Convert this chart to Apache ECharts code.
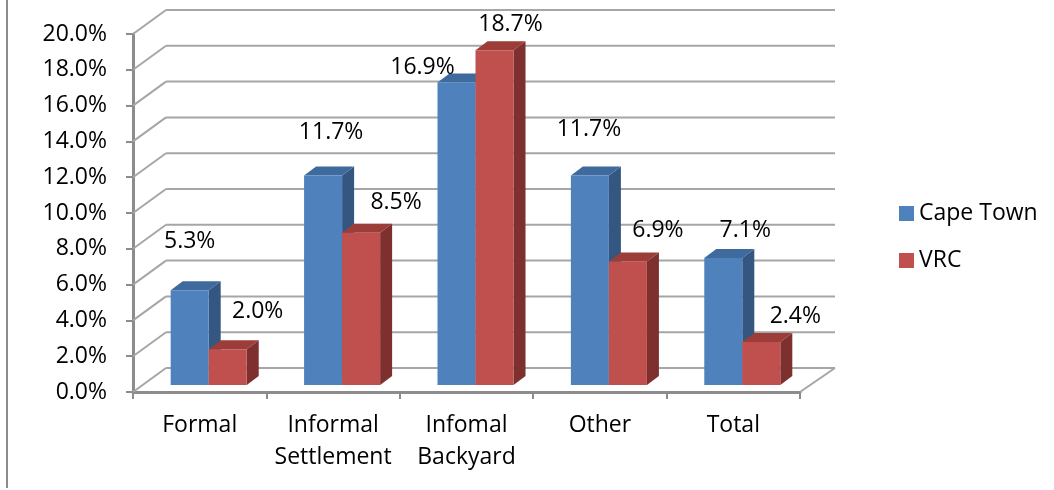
<!DOCTYPE html>
<html>
<head>
<meta charset="utf-8">
<script src="https://cdn.jsdelivr.net/npm/echarts@6/dist/echarts.min.js"></script>
<style>
  html, body { margin: 0; padding: 0; background: #ffffff; }
  #chart { width: 1054px; height: 490px; }
</style>
</head>
<body>
<div id="chart"></div>
<script>
// Share of households by dwelling type (%)
const categories = ['Formal', 'Informal\nSettlement', 'Infomal\nBackyard', 'Other', 'Total'];
const capeTown = [5.3, 11.7, 16.9, 11.7, 7.1];
const vrc = [2.0, 8.5, 18.7, 6.9, 2.4];
const yTicks = [0, 2, 4, 6, 8, 10, 12, 14, 16, 18, 20];

// Label placement tweaks (pixels from the top-centre of each bar's front face)
const capeLabelNudge = [[0, -49], [8, -43], [-34, -15], [-1, -46], [22, -27]];
const vrcLabelNudge = [[30, -38], [35, -30], [16, -26], [30, -31], [34, -26]];

const FONT = '"Open Sans", "Noto Sans", sans-serif';
const FS = 23;
const WALL_DX = 33, WALL_DY = -24;   // depth of back wall
const BAR_SX = 9, BAR_SY = -7;       // bars sit part-way into the depth
const BAR_DX = 12, BAR_DY = -9;      // bar block depth
const BAR_RATIO = 0.285;             // bar width as share of category band

const palettes = [
  { front: '#4F81BD', top: '#3E6A9E', side: '#335780' },
  { front: '#C0504D', top: '#9C3D3A', side: '#7D302E' }
];

function wallItem(params, api) {
  const cs = params.coordSys;
  const v = api.value(1);
  const p = api.coord([0, v]);
  const x0 = cs.x, x1 = cs.x + cs.width, y = p[1];
  const style = { stroke: '#A6A6A6', lineWidth: 2 };
  const children = [
    { type: 'line', shape: { x1: x0, y1: y, x2: x0 + WALL_DX, y2: y + WALL_DY }, style: style },
    { type: 'line', shape: { x1: x0 + WALL_DX, y1: y + WALL_DY, x2: x1 + WALL_DX + 2, y2: y + WALL_DY }, style: style }
  ];
  if (v === 0) {
    children.push({ type: 'line', shape: { x1: x1, y1: y, x2: x1 + WALL_DX + 2, y2: y + WALL_DY }, style: style });
  }
  return { type: 'group', children: children };
}

function barRenderer(seriesIdx, nudges) {
  const pal = palettes[seriesIdx];
  return function (params, api) {
    const cat = api.value(0);
    const val = api.value(1);
    const base = api.coord([cat, 0]);
    const top = api.coord([cat, val]);
    const band = api.size([1, 0])[0];
    const bw = band * BAR_RATIO;
    const xl = base[0] - bw + seriesIdx * bw + BAR_SX;
    const yb = base[1] + BAR_SY;
    const yt = top[1] + BAR_SY;
    const nd = nudges[params.dataIndex];
    return {
      type: 'group',
      children: [
        { type: 'polygon', shape: { points: [[xl + bw, yt], [xl + bw + BAR_DX, yt + BAR_DY], [xl + bw + BAR_DX, yb + BAR_DY], [xl + bw, yb]] },
          style: { fill: pal.side } },
        { type: 'polygon', shape: { points: [[xl, yt], [xl + bw, yt], [xl + bw + BAR_DX, yt + BAR_DY], [xl + BAR_DX, yt + BAR_DY]] },
          style: { fill: pal.top } },
        { type: 'rect', shape: { x: xl, y: yt, width: bw, height: yb - yt },
          style: { fill: pal.front } },
        { type: 'text', style: {
            text: val.toFixed(1) + '%', x: xl + bw / 2 + nd[0], y: yt + nd[1],
            align: 'center', verticalAlign: 'middle',
            fill: '#000000', font: FS + 'px ' + FONT } }
      ]
    };
  };
}

const chart = echarts.init(document.getElementById('chart'), null, { renderer: 'canvas' });

chart.setOption({
  animation: false,
  backgroundColor: '#ffffff',
  textStyle: { fontFamily: FONT },
  grid: { left: 133, right: 254, top: 34, bottom: 98, containLabel: false },
  legend: {
    orient: 'vertical',
    left: 894,
    top: 197,
    itemWidth: 15,
    itemHeight: 15,
    itemGap: 24,
    icon: 'rect',
    textStyle: { fontSize: FS, color: '#000000', fontFamily: FONT, lineHeight: 23 },
    data: ['Cape Town', 'VRC']
  },
  xAxis: {
    type: 'category',
    data: categories,
    boundaryGap: true,
    axisLine: { show: true, lineStyle: { color: '#8C8C8C', width: 3 } },
    axisTick: { show: true, length: 7, lineStyle: { color: '#8C8C8C', width: 2 } },
    axisLabel: { color: '#000000', fontSize: FS, fontFamily: FONT, lineHeight: 32, margin: 17, interval: 0 },
    splitLine: { show: false }
  },
  yAxis: {
    type: 'value',
    min: 0,
    max: 20,
    interval: 2,
    axisLine: { show: true, lineStyle: { color: '#8C8C8C', width: 3 } },
    axisTick: { show: true, length: 7, lineStyle: { color: '#8C8C8C', width: 2 } },
    axisLabel: { color: '#000000', fontSize: FS, fontFamily: FONT, margin: 26,
      formatter: function (v) { return v.toFixed(1) + '%'; } },
    splitLine: { show: false }
  },
  graphic: [
    { type: 'line', shape: { x1: 7, y1: 0, x2: 7, y2: 488 }, style: { stroke: '#8C8C8C', lineWidth: 2 } }
  ],
  series: [
    {
      type: 'custom',
      name: 'walls',
      clip: false,
      z: 1,
      silent: true,
      data: yTicks.map(function (v) { return [0, v]; }),
      renderItem: wallItem
    },
    {
      type: 'custom',
      name: 'Cape Town',
      clip: false,
      z: 2,
      itemStyle: { color: palettes[0].front },
      data: capeTown.map(function (v, i) { return [i, v]; }),
      renderItem: barRenderer(0, capeLabelNudge)
    },
    {
      type: 'custom',
      name: 'VRC',
      clip: false,
      z: 3,
      itemStyle: { color: palettes[1].front },
      data: vrc.map(function (v, i) { return [i, v]; }),
      renderItem: barRenderer(1, vrcLabelNudge)
    }
  ]
});
</script>
</body>
</html>
